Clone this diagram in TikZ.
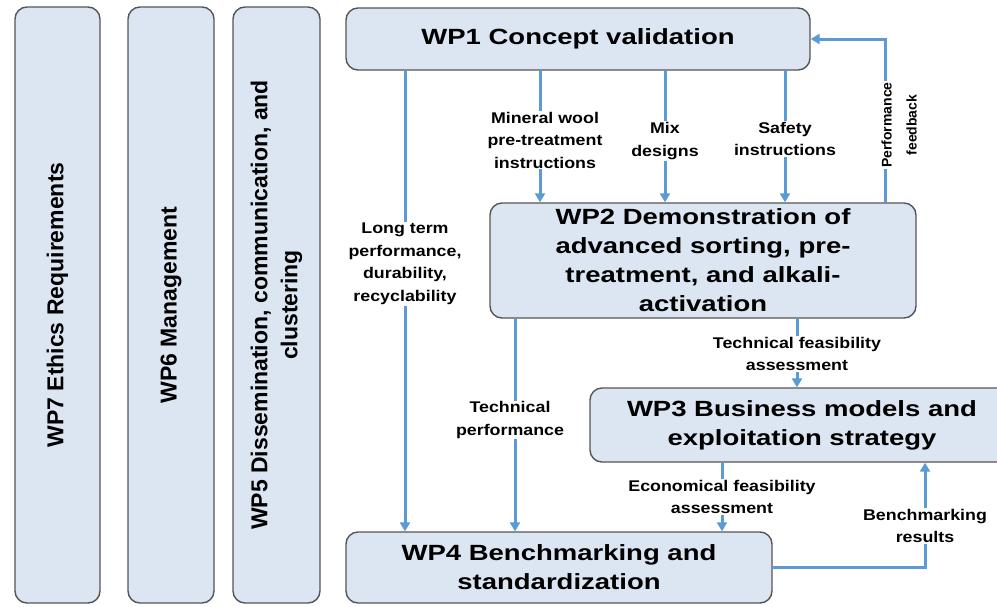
\documentclass[tikz,border=0pt]{standalone}
\usepackage{fontspec}
\setmainfont{Liberation Sans}
\newfontfamily\boxfont[FakeStretch=1.25]{Liberation Sans}
\newfontfamily\lblfont[FakeStretch=1.15]{Liberation Sans}
\usetikzlibrary{arrows.meta}
\definecolor{wpfill}{HTML}{DCE6F2}
\definecolor{wpline}{HTML}{555555}
\definecolor{flowblue}{HTML}{5B9BD5}

\begin{document}
\begin{tikzpicture}[x=1pt, y=-1pt,
  wp/.style={draw=wpline, line width=1.4pt, fill=wpfill, rounded corners=12pt,
    align=center, inner sep=0pt},
  wptext/.style={font=\boxfont\bfseries\fontsize{22}{29}\selectfont},
  side/.style={wp, rotate=90, minimum width=596pt,
    font=\bfseries\fontsize{23}{30}\selectfont},
  flow/.style={draw=flowblue, line width=3pt, -{Triangle[length=9pt,width=10pt]}},
  lbl/.style={fill=white, align=center, inner sep=1pt,
    font=\lblfont\bfseries\fontsize{15.5}{22.5}\selectfont},
]

  \useasboundingbox (0,0) rectangle (997,606);
  \fill[white] (0,0) rectangle (997,606);
  \clip (0,0) rectangle (997,606);

  % side work packages
  \node[side, minimum height=85pt] (wp7) at (57.5,305) {WP7 Ethics Requirements};
  \node[side, minimum height=86pt] (wp6) at (171,305) {WP6 Management};
  \node[side, minimum height=87pt] (wp5) at (276.5,305)
    {WP5 Dissemination, communication, and\\clustering};

  % main work packages
  \node[wp, wptext, minimum width=464pt, minimum height=62pt] (wp1) at (578,39)
    {WP1 Concept validation};
  \node[wp, wptext, minimum width=426pt, minimum height=115pt] (wp2) at (703,260.5)
    {WP2 Demonstration of\\advanced sorting, pre-\\treatment, and alkali-\\activation};
  \node[wp, wptext, minimum width=424pt, minimum height=74pt] (wp3) at (802,425)
    {WP3 Business models and\\exploitation strategy};
  \node[wp, wptext, minimum width=426pt, minimum height=71pt] (wp4) at (559,567.5)
    {WP4 Benchmarking and\\standardization};

  % arrow columns
  \coordinate (xlong) at (405,0);
  \coordinate (xmin) at (540,0);
  \coordinate (xmix) at (665,0);
  \coordinate (xsafe) at (785,0);
  \coordinate (xperf) at (885,0);
  \coordinate (xtech) at (515,0);
  \coordinate (xtfa) at (797,0);
  \coordinate (xeco) at (722,0);
  \coordinate (xbench) at (925,0);

  \draw[flow] (wp1.south -| xlong) -- (wp4.north -| xlong);
  \draw[flow] (wp1.south -| xmin) -- (wp2.north -| xmin);
  \draw[flow] (wp1.south -| xmix) -- (wp2.north -| xmix);
  \draw[flow] (wp1.south -| xsafe) -- (wp2.north -| xsafe);
  \draw[flow] (wp2.north -| xperf) |- (wp1.east); %% feedback
  \draw[flow] (wp2.south -| xtech) -- (wp4.north -| xtech);
  \draw[flow] (wp2.south -| xtfa) -- (wp3.north -| xtfa);
  \draw[flow] (wp3.south -| xeco) -- (wp4.north -| xeco);
  \draw[flow] (wp4.east) -| (wp3.south -| xbench); %% results

  % labels
  \node[lbl] (lblong) at (405,264) {Long term\\performance,\\durability,\\recyclability};
  \node[lbl] (lbmin) at (545,140) {Mineral wool\\pre-treatment\\instructions};
  \node[lbl] (lbmix) at (665,141) {Mix\\designs};
  \node[lbl] (lbsafe) at (785,139) {Safety\\instructions};
  \node[lbl, rotate=90, font=\bfseries\fontsize{14}{25}\selectfont] (lbperf)
    at (899,125) {Performance\\feedback};
  \node[lbl] (lbtfa) at (797,354) {Technical feasibility\\assessment};
  \node[lbl] (lbtech) at (510,420) {Technical\\performance};
  \node[lbl] (lbeco) at (722,497) {Economical feasibility\\assessment};
  \node[lbl] (lbbench) at (925,526) {Benchmarking\\results};
\end{tikzpicture}
\end{document}
